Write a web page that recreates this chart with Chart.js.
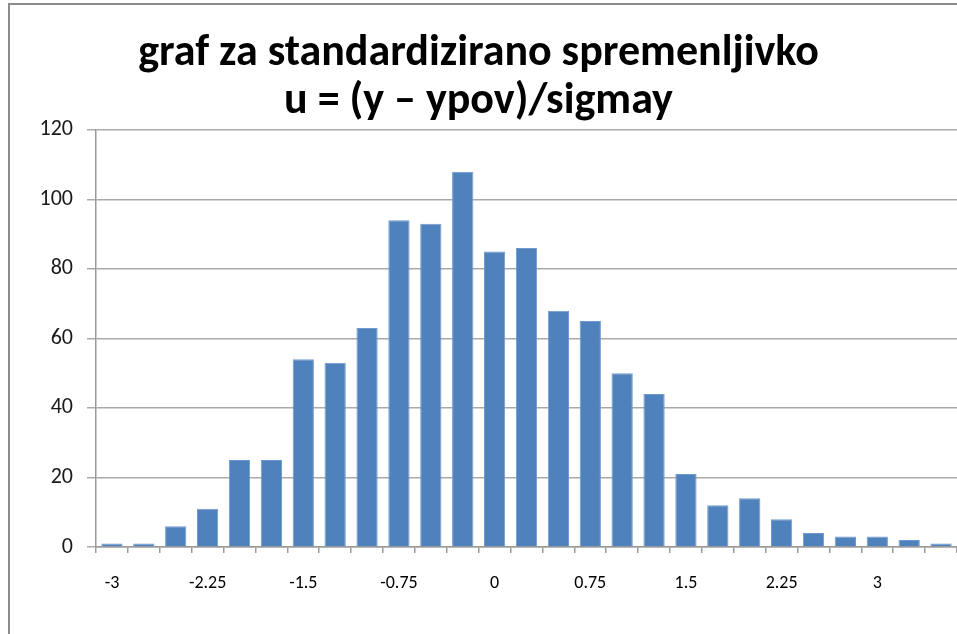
<!DOCTYPE html>
<html>
<head>
<meta charset="utf-8">
<script src="https://cdn.jsdelivr.net/npm/chart.js@4.4.1/dist/chart.umd.min.js"></script>
<style>
  html, body { margin: 0; padding: 0; background: #ffffff; }
  #wrap { position: relative; width: 957px; height: 634px; overflow: hidden; }
  #frame { position: absolute; left: 8px; top: 3px; width: 1000px; height: 700px;
           border-left: 2px solid #8c8c8c; border-top: 2px solid #8c8c8c; box-sizing: border-box; }
  canvas { position: absolute; left: 0; top: 0; }
</style>
</head>
<body>
<div id="wrap">
  <div id="frame"></div>
  <canvas id="c" width="957" height="634"></canvas>
</div>
<script>
const titleLines = ['graf za standardizirano spremenljivko', 'u = (y \u2013 ypov)/sigmay'];
const categories = ['-3','-2.75','-2.5','-2.25','-2','-1.75','-1.5','-1.25','-1','-0.75','-0.5','-0.25',
                    '0','0.25','0.5','0.75','1','1.25','1.5','1.75','2','2.25','2.5','2.75','3','3.25','3.5'];
const counts = [1, 1, 6, 11, 25, 25, 54, 53, 63, 94, 93, 108, 85, 86, 68, 65, 50, 44, 21, 12, 14, 8, 4, 3, 3, 2, 1];
const yTicks = [0, 20, 40, 60, 80, 100, 120];

const FONT = 'Carlito, Lato, "Open Sans", sans-serif';

new Chart(document.getElementById('c'), {
  type: 'bar',
  data: {
    labels: categories,
    datasets: [{
      data: counts,
      backgroundColor: '#4F81BD',
      borderColor: '#6F9AD0',
      borderWidth: 1,
      barPercentage: 0.667,
      categoryPercentage: 1.0
    }]
  },
  options: {
    responsive: false,
    animation: false,
    layout: { padding: { left: 0, right: 0, top: 0, bottom: 0 } },
    plugins: {
      legend: { display: false },
      tooltip: { enabled: false },
      title: {
        display: true,
        text: titleLines,
        color: '#000000',
        font: { family: FONT, size: 44, weight: 'bold', lineHeight: 1.09 },
        padding: { top: 30, bottom: 4 }
      }
    },
    scales: {
      x: {
        offset: true,
        grid: { display: true, drawOnChartArea: false, drawTicks: true, tickLength: 6, offset: true, color: '#9a9a9a', lineWidth: 1.5 },
        border: { display: true, color: '#9a9a9a', width: 1.5 },
        ticks: {
          autoSkip: false, maxRotation: 0, minRotation: 0,
          color: '#000000',
          font: { family: FONT, size: 18 },
          padding: 20,
          callback: function(v, i) { return i % 3 === 0 ? categories[i] : ''; }
        },
        afterFit: function(s) { s.height = 87; s.paddingLeft = 0; s.paddingRight = 0; }
      },
      y: {
        min: 0, max: 120,
        afterBuildTicks: function(s) { s.ticks = yTicks.map(v => ({ value: v })); },
        grid: { color: '#aaaaaa', lineWidth: 1.5, drawTicks: true, tickLength: 9 },
        border: { display: true, color: '#9a9a9a', width: 1.5 },
        ticks: { color: '#1a1a1a', font: { family: FONT, size: 22 }, padding: 14 },
        afterFit: function(s) { s.width = 96; s.paddingTop = 0; s.paddingBottom = 0; }
      }
    }
  }
});
</script>
</body>
</html>
